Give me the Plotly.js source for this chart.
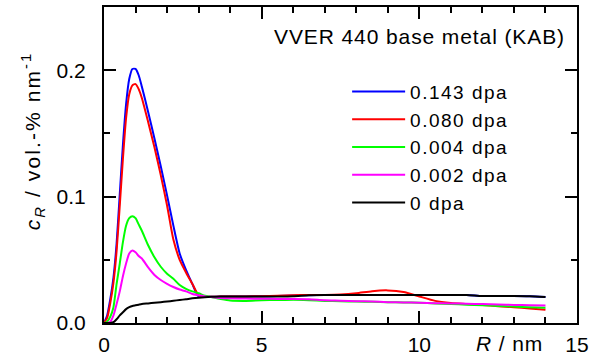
<!DOCTYPE html>
<html>
<head>
<meta charset="utf-8">
<script src="https://cdn.plot.ly/plotly-3.0.1.min.js"></script>
<style>
  html, body { margin: 0; padding: 0; background: #fff; }
  #chart { width: 596px; height: 360px; }
  .legendtext { letter-spacing: 1.5px; }
  .annotation-text { letter-spacing: 0.9px; }
  .annotation[data-index="2"] .annotation-text { letter-spacing: 2.1px; }
</style>
</head>
<body>
<div id="chart"></div>
<script>
// Radius R (nm)
const R = [0,0.1,0.2,0.3,0.4,0.5,0.6,0.7,0.8,0.9,1.0,1.1,1.2,1.4,1.6,1.8,2.0,2.2,2.4,2.6,2.8,3.0,3.2,3.4,3.7,4.0,4.5,5,5.5,6,6.5,7,7.5,8,8.5,9,9.5,10,10.5,11,11.5,12,12.5,13,13.5,14];

// c_R (vol.-% nm^-1) per dose
const dpa0143 = [0,0.006,0.019,0.036,0.063,0.102,0.141,0.173,0.193,0.201,0.201,0.196,0.187,0.167,0.146,0.124,0.101,0.077,0.055,0.042,0.031,0.021,0.021,0.0207,0.021,0.021,0.021,0.0212,0.0213,0.0217,0.022,0.0222,0.0222,0.0222,0.0222,0.0222,0.0222,0.0222,0.0222,0.0222,0.0222,0.0213,0.0213,0.0213,0.0211,0.0205];
const dpa0080 = [0,0.004,0.016,0.032,0.057,0.093,0.130,0.162,0.181,0.188,0.189,0.185,0.178,0.159,0.139,0.117,0.093,0.066,0.050,0.040,0.031,0.022,0.021,0.0207,0.021,0.021,0.021,0.0212,0.0215,0.022,0.0222,0.0222,0.0225,0.0235,0.0252,0.0258,0.0246,0.021,0.0175,0.0158,0.015,0.0142,0.0133,0.0125,0.0115,0.0105];
const dpa0004 = [0,0.001,0.005,0.0125,0.031,0.047,0.064,0.077,0.083,0.0845,0.083,0.078,0.073,0.0615,0.052,0.0445,0.039,0.035,0.030,0.027,0.025,0.0235,0.0215,0.0205,0.019,0.0178,0.0175,0.018,0.0182,0.0183,0.018,0.0175,0.0172,0.017,0.0168,0.0165,0.0163,0.016,0.0155,0.015,0.0145,0.014,0.0135,0.013,0.0125,0.012];
const dpa0002 = [0,0,0.001,0.006,0.015,0.025,0.037,0.047,0.055,0.0574,0.056,0.053,0.051,0.044,0.038,0.034,0.031,0.0285,0.0265,0.025,0.023,0.022,0.021,0.0205,0.0198,0.0195,0.0193,0.0192,0.019,0.019,0.0188,0.018,0.0177,0.0173,0.017,0.0165,0.0163,0.016,0.0157,0.0155,0.0152,0.015,0.0146,0.0143,0.014,0.0139];
const dpa0 = [0,0,0,0.0006,0.003,0.006,0.0085,0.011,0.0125,0.0135,0.014,0.0145,0.015,0.0155,0.016,0.0165,0.017,0.0176,0.0182,0.0188,0.0195,0.020,0.0204,0.0207,0.021,0.021,0.021,0.021,0.021,0.0212,0.022,0.0222,0.0222,0.0222,0.0222,0.0222,0.0222,0.0222,0.0222,0.0222,0.0222,0.0213,0.0213,0.0213,0.0211,0.0205];

const seriesNames = ['0.143 dpa','0.080 dpa','0.004 dpa','0.002 dpa','0 dpa'];
const seriesValues = [dpa0143, dpa0080, dpa0004, dpa0002, dpa0];
const seriesColors = ['#0000ff','#ff0000','#00ff00','#ff00ff','#000000'];

const xTickVals = [0,5,10,15];
const xTickText = ['0','5','10','15'];
const yTickVals = [0,0.1,0.2];
const yTickText = ['0.0','0.1','0.2'];

const FONT = 'Liberation Sans, Arial, sans-serif';

const traces = seriesNames.map((n, i) => ({
  type: 'scatter', mode: 'lines', name: n,
  x: R, y: seriesValues[i],
  line: { color: seriesColors[i], width: 2, shape: 'spline', smoothing: 0.6 },
  hoverinfo: 'skip'
}));

const axisCommon = {
  showgrid: false, zeroline: false, showline: true, linecolor: '#000', linewidth: 2,
  mirror: 'allticks', ticks: 'inside', tickcolor: '#000', tickwidth: 2, ticklen: 12,
  tickfont: { family: FONT, size: 21, color: '#000' }
};

const layout = {
  width: 596, height: 360,
  margin: { l: 104, r: 19, t: 7, b: 37 },
  paper_bgcolor: '#fff', plot_bgcolor: '#fff',
  font: { family: FONT, size: 21, color: '#000' },
  showlegend: true,
  legend: {
    x: 0.514, y: 0.792, xanchor: 'left', yanchor: 'top',
    bgcolor: 'rgba(0,0,0,0)', borderwidth: 0,
    font: { family: FONT, size: 19, color: '#000' },
    itemwidth: 53, tracegroupgap: 0
  },
  xaxis: Object.assign({}, axisCommon, {
    range: [0, 15], tickmode: 'array', tickvals: xTickVals, ticktext: xTickText,
    ticklabelstandoff: 2,
    minor: { dtick: 1, ticks: 'inside', ticklen: 6, tickwidth: 2, tickcolor: '#000' }
  }),
  yaxis: Object.assign({}, axisCommon, {
    range: [0, 0.25], tickmode: 'array', tickvals: yTickVals, ticktext: yTickText,
    ticklabelstandoff: 12,
    minor: { dtick: 0.05, ticks: 'inside', ticklen: 6, tickwidth: 2, tickcolor: '#000' }
  }),
  annotations: [
    { text: 'VVER 440 base metal (KAB)', xref: 'paper', yref: 'paper', x: 0.978, y: 0.908,
      xanchor: 'right', yanchor: 'middle', showarrow: false, font: { family: FONT, size: 21, color: '#000' } },
    { text: '<i>R</i> / nm', xref: 'paper', yref: 'paper', x: 0.858, y: -0.065,
      xanchor: 'center', yanchor: 'middle', showarrow: false, font: { family: FONT, size: 21, color: '#000' } },
    { text: '<i>c</i><sub><i>R</i></sub> / vol.-% nm<sup>-1</sup>', xref: 'paper', yref: 'paper', x: -0.15, y: 0.574,
      xanchor: 'center', yanchor: 'middle', textangle: -90, showarrow: false, font: { family: FONT, size: 21, color: '#000' } }
  ]
};

Plotly.newPlot('chart', traces, layout, { staticPlot: true, displayModeBar: false });
</script>
</body>
</html>
